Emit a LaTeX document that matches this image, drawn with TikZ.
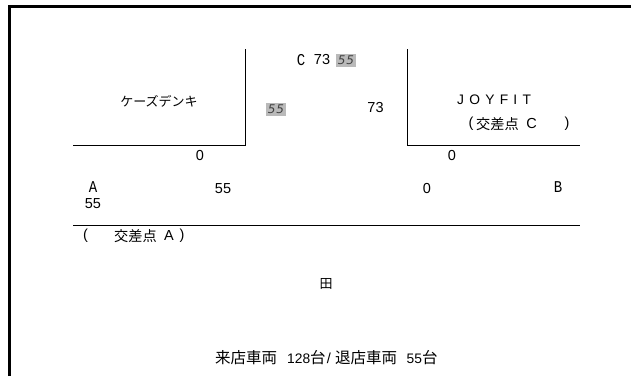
\documentclass[tikz,border=0pt]{standalone}
\usepackage{fontspec}
\setmainfont{Liberation Sans}
\newfontfamily\cjk{Noto Sans CJK JP}
\newfontfamily\monof{Liberation Mono}[FakeStretch=0.85]
\newfontfamily\obl{DejaVu Sans}[ItalicFont={DejaVu Sans Oblique},LetterSpace=8]
\tikzset{
  lbl/.style={inner sep=0pt,font=\fontsize{14.5}{16}\selectfont},
  jp/.style={inner sep=0pt,font=\cjk\fontsize{14.2}{16}\selectfont},
  jpsmall/.style={inner sep=0pt,font=\cjk\fontsize{13}{15}\selectfont},
  jpbig/.style={inner sep=0pt,font=\cjk\fontsize{15.5}{17}\selectfont},
  sm/.style={inner sep=0pt,font=\fontsize{13.8}{15}\selectfont},
  mono/.style={inner sep=0pt,font=\monof\fontsize{16.5}{18}\selectfont},
  grey/.style={fill=black!27,inner sep=0pt,minimum width=20pt,minimum height=13pt,text=black!75,font=\obl\itshape\fontsize{12}{13}\selectfont},
  wall/.style={line width=1pt,black},
  frame/.style={line width=3pt,black}
}
\begin{document}
\begin{tikzpicture}[x=1pt,y=-1pt]
\useasboundingbox (0,0) rectangle (631,376);
\draw[frame] (9.5,376) -- (9.5,6.5) -- (631,6.5);
\coordinate (w1a) at (73,145); \coordinate (w1b) at (245,145); \coordinate (w1c) at (245,49);
\coordinate (w2a) at (407.5,49); \coordinate (w2b) at (407.5,145); \coordinate (w2c) at (580,145);
\coordinate (ra) at (73,225); \coordinate (rb) at (580,225);
\draw[wall] (w1a) -- (w1b) -- (w1c);
\draw[wall] (w2a) -- (w2b) -- (w2c);
\draw[wall] (ra) -- (rb);
\node[jpsmall] (store) at (159,101) {ケーズデンキ};
\node[lbl] (z1) at (200,155.5) {0};
\node[grey] (g1) at (276,109.5) {55};
\node[mono] (C) at (301,60) {C};
\node[lbl] (c73) at (322,60) {73};
\node[grey] (g2) at (346,60.5) {55};
\node[lbl] (r73) at (375.5,107.5) {73};
\node[sm,anchor=west] (joy) at (457,100) {\addfontfeature{LetterSpace=38}JOYFIT};
\node[lbl] (lp1) at (471,124) {(};
\node[jp,anchor=west] (kc) at (476,124) {交差点};
\node[lbl] (lc) at (531.5,124) {C};
\node[lbl] (rp1) at (567,124) {)};
\node[lbl] (z2) at (452,155.5) {0};
\node[mono] (A) at (93,187) {A};
\node[lbl] (a55) at (223,188.5) {55};
\node[lbl] (z3) at (427,188.5) {0};
\node[mono] (B) at (558,187) {B};
\node[lbl] (b55) at (93,204) {55};
\node[lbl] (lp2) at (85.5,236) {(};
\node[jp,anchor=west] (ka) at (114,236) {交差点};
\node[lbl] (la) at (169,236) {A};
\node[lbl] (rp2) at (182,236) {)};
\node[jpsmall] (den) at (326,284) {田};
\node[jpbig,anchor=west] (t1) at (215,358) {来店車両};
\node[sm,anchor=west] (t2) at (287,358.5) {128};
\node[jpbig,anchor=west] (t3) at (310,358) {台};
\node[lbl] (t4) at (329,358.5) {/};
\node[jpbig,anchor=west] (t5) at (335,358) {退店車両};
\node[sm,anchor=west] (t6) at (406.5,358.5) {55};
\node[jpbig,anchor=west] (t7) at (422,358) {台};
\end{tikzpicture}
\end{document}
